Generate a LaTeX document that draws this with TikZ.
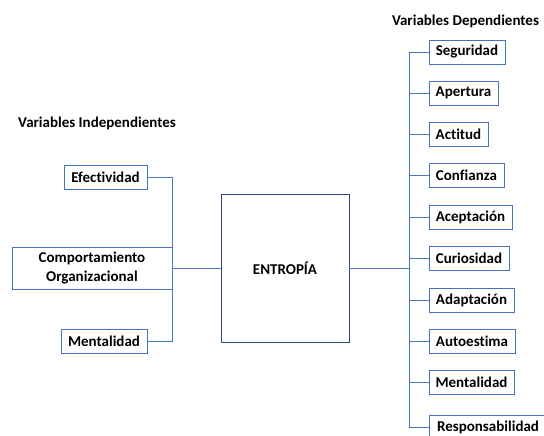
\documentclass[tikz,border=0pt]{standalone}
\usepackage{fontspec}
\setmainfont{Carlito}[Ligatures={NoCommon}]
\definecolor{boxblue}{HTML}{4472C4}
\definecolor{lineblue}{HTML}{4A78C8}
\definecolor{entblue}{HTML}{2F4A86}
\begin{document}
\begin{tikzpicture}[x=1pt,y=-1pt,
  vbox/.style={draw=boxblue, line width=0.9pt, fill=white, inner sep=0pt,
    minimum height=24pt, align=center, font=\fontsize{15}{17}\selectfont\bfseries},
  conn/.style={draw=lineblue, line width=0.9pt},
  hdr/.style={inner sep=0pt, font=\fontsize{15}{17}\selectfont\bfseries}]
\useasboundingbox (0,0) rectangle (544,436);
\clip (0,0) rectangle (544,436);
% headers
\node[hdr] (hd) at (465.5,21) {Variables Dependientes};
\node[hdr] (hi) at (97,123) {Variables Independientes};
% left
\node[vbox, minimum width=83pt] (ef) at (105.5,177) {Efectividad};
\node[vbox, minimum width=160pt, minimum height=42pt, font=\fontsize{15}{18.5}\selectfont\bfseries] (co) at (92,268) {Comportamiento\\Organizacional};
\node[vbox, minimum width=86pt] (me) at (104,341) {Mentalidad};
% center
\node[vbox, draw=entblue, minimum width=128pt, minimum height=148pt] (en) at (285,268) {ENTROPÍA};
% right
\node[vbox, minimum width=76pt] (r1) at (467,52) {Seguridad};
\node[vbox, minimum width=69pt] (r2) at (463.5,93) {Apertura};
\node[vbox, minimum width=59pt] (r3) at (458.5,134) {Actitud};
\node[vbox, minimum width=75pt] (r4) at (466.5,175) {Confianza};
\node[vbox, minimum width=83pt] (r5) at (470.5,217) {Aceptación};
\node[vbox, minimum width=80pt] (r6) at (469,258) {Curiosidad};
\node[vbox, minimum width=85pt] (r7) at (471.5,300) {Adaptación};
\node[vbox, minimum width=86pt] (r8) at (472,341) {Autoestima};
\node[vbox, minimum width=85pt] (r9) at (471.5,382) {Mentalidad};
\node[vbox, minimum width=118pt] (r10) at (488,427) {Responsabilidad};
% joints
\coordinate (lj) at (172,268);
\coordinate (rj) at (409,268);
% connectors
\draw[conn] (ef.east) -| (lj);
\draw[conn] (me.east) -| (lj);
\draw[conn] (co.east) -- (en.west);
\draw[conn] (en.east) -- (rj);
\foreach \b in {r1,r2,r3,r4,r5,r6,r7,r8,r9,r10} {
  \draw[conn] (rj) |- (\b.west);
}
\end{tikzpicture}
\end{document}
